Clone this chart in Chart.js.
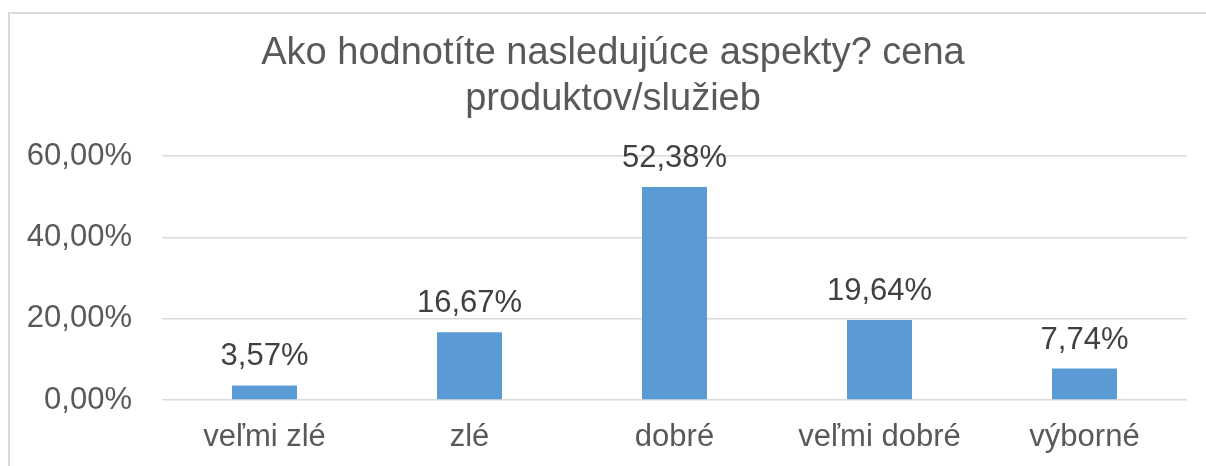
<!DOCTYPE html>
<html>
<head>
<meta charset="utf-8">
<script src="https://cdn.jsdelivr.net/npm/chart.js@4"></script>
<style>
  html, body { margin: 0; padding: 0; background: #fff; overflow: hidden; width: 1206px; height: 466px; }
  #box {
    position: absolute; left: 8px; top: 12px; width: 1198px; height: 454px;
    border-left: 2px solid #D9D9D9; border-top: 2px solid #D9D9D9;
    box-sizing: border-box;
  }
  #wrap { position: absolute; left: 9px; top: 12px; width: 1208px; height: 454px; }
</style>
</head>
<body>
<div id="box"></div>
<div id="wrap"><canvas id="myChart"></canvas></div>
<script>
const titleLines = ["Ako hodnotíte nasledujúce aspekty? cena", "produktov/služieb"];

const labels = ["veľmi zlé", "zlé", "dobré", "veľmi dobré", "výborné"];

const values = [3.57, 16.67, 52.38, 19.64, 7.74];

const yTicks = [0, 20, 40, 60];

const fmt = (v) => v.toFixed(2).replace(".", ",") + "%";

const FONT = "'Liberation Sans', Arial, sans-serif";

// labels above bars
const barLabels = {
  id: "barLabels",
  afterDatasetsDraw(chart) {
    const { ctx } = chart;
    const meta = chart.getDatasetMeta(0);
    ctx.save();
    ctx.font = `31px ${FONT}`;
    ctx.fillStyle = "#404040";
    ctx.textAlign = "center";
    ctx.textBaseline = "alphabetic";
    meta.data.forEach((bar, i) => {
      ctx.fillText(fmt(values[i]), bar.x, bar.y - 20);
    });
    ctx.restore();
  },
};

const ctx = document.querySelector("#myChart").getContext("2d");

const data = {
  labels,
  datasets: [
    {
      data: values,
      backgroundColor: "#5B9BD5",
      barPercentage: 0.317,
      categoryPercentage: 1,
    },
  ],
};

const config = {
  type: "bar",
  data,
  plugins: [barLabels],
  options: {
    responsive: true,
    maintainAspectRatio: false,
    animation: false,
    layout: { padding: 0 },
    plugins: {
      legend: { display: false },
      tooltip: { enabled: false },
      title: {
        display: true,
        text: titleLines,
        color: "#595959",
        font: { family: FONT, size: 38, weight: "normal", lineHeight: 1.21 },
        padding: { top: 19, bottom: 33 },
      },
    },
    scales: {
      x: {
        afterFit: (scale) => { scale.height = 66; },
        grid: { display: false, drawTicks: false },
        border: { display: false },
        ticks: {
          color: "#595959",
          font: { family: FONT, size: 31 },
          padding: 19,
          maxRotation: 0,
        },
      },
      y: {
        min: 0,
        max: 60,
        afterFit: (scale) => { scale.width = 153; },
        afterBuildTicks: (scale) => { scale.ticks = yTicks.map((v) => ({ value: v })); },
        grid: { color: "#D9D9D9", lineWidth: 1.5, drawTicks: false },
        border: { display: false },
        ticks: {
          color: "#595959",
          font: { family: FONT, size: 31 },
          padding: 30,
          callback: (val) => fmt(val),
        },
      },
      // empty right-hand gap so the title centres on the whole frame
      gap: {
        type: "linear",
        position: "right",
        afterFit: (scale) => { scale.width = 30; },
        grid: { display: false, drawTicks: false },
        border: { display: false },
        ticks: { display: false },
      },
    },
  },
};

const myChart = new Chart(ctx, config);
</script>
</body>
</html>
